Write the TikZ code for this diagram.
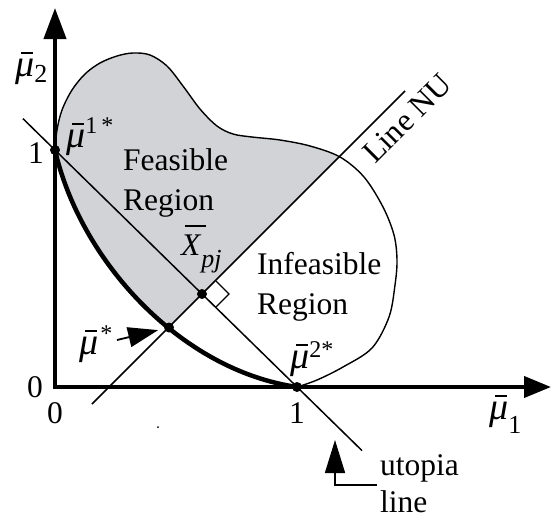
\documentclass[tikz,border=0pt]{standalone}
\usepackage{fontspec}
\setmainfont{Liberation Serif}
\usetikzlibrary{arrows.meta,calc}
\definecolor{feasgray}{RGB}{210,211,214}
\newcommand\mubar{\mbox{\fontsize{38}{38}\selectfont\rlap{\kern0.15em\rule[0.58em]{0.32em}{0.055em}}\textit{μ}}}
\newcommand\xbar{\mbox{\rlap{\kern0.12em\rule[0.88em]{0.68em}{0.06em}}\textit{X}}}
\newcommand\subsc[2]{\raisebox{-#1}{\fontsize{26}{26}\selectfont #2}}
\newcommand\supsc[2]{\raisebox{#1}{\fontsize{24}{24}\selectfont #2}}
\begin{document}
\begin{tikzpicture}[x=1pt,y=-1pt,
  dot/.style={circle,fill=black,inner sep=0pt,minimum size=10pt},
  lbl/.style={inner sep=0pt,font=\fontsize{31.5}{40}\selectfont},
  thinl/.style={line width=1.5pt},
  bound/.style={line width=1.4pt},
  pareto/.style={line width=4.5pt,line cap=round},
  axis/.style={line width=4pt,line join=miter,
    {Triangle[length=31pt,width=22pt]}-{Triangle[length=27pt,width=21pt]}},
  ptra/.style={line width=1.8pt,-{Triangle[length=30pt,width=20pt]}},
  ptrb/.style={line width=1.6pt,-{Triangle[length=33pt,width=20pt]}}]
\useasboundingbox (0,0) rectangle (551,517);
% key points
\coordinate (O) at (55,387);
\coordinate (ytip) at (55,8);
\coordinate (xtip) at (551,387);
\coordinate (pm1) at (55,150);
\coordinate (pm2) at (297,387);
\coordinate (pxpj) at (202,294);
\coordinate (pms) at (169,327.5);
\coordinate (ut1) at (23,118.7);
\coordinate (ut2) at (362,450.6);
\coordinate (nu1) at (92,404);
\coordinate (nu2) at (405,91);
% shaded part of the feasible region
\begin{scope}
\clip (0,0) -- (496,0) -- (0,496) -- cycle;
\fill[feasgray] plot[smooth,tension=0.55] coordinates {(55,150) (57,130) (62,110) (72,90) (85,74) (100,63) (117,56) (133,53) (150,55) (167,66) (183,86) (200,109) (217,126) (233,134) (252,137) (280,140) (310,146) (340,157) (364,177) (383,207) (394,235) (397,260) (395,285) (389,317) (372,348) (343,367) (317,380) (297,387)}
  .. controls (180,370) and (80,260) .. (55,150) -- cycle;
\end{scope}
% outer boundary
\draw[bound] plot[smooth,tension=0.55] coordinates {(55,150) (57,130) (62,110) (72,90) (85,74) (100,63) (117,56) (133,53) (150,55) (167,66) (183,86) (200,109) (217,126) (233,134) (252,137) (280,140) (310,146) (340,157) (364,177) (383,207) (394,235) (397,260) (395,285) (389,317) (372,348) (343,367) (317,380) (297,387)};
% utopia line and line NU
\draw[thinl] (ut1) -- (ut2);
\draw[thinl] (nu1) -- (nu2);
% right angle mark
\draw[line width=1.3pt] ($(pxpj)+(14,-13)$) -- ++(13,13) -- ++(-13,13);
% Pareto front
\draw[pareto] (pm1) .. controls (80,260) and (180,370) .. (pm2);
% axes
\draw[axis] (ytip) -- (O) -- (xtip);
% dots
\node[dot] (m1) at (pm1) {};
\node[dot] (m2) at (pm2) {};
\node[dot] (xpj) at (pxpj) {};
\node[dot] (ms) at (pms) {};
\node[circle,fill=black,inner sep=0pt,minimum size=2pt] (speck) at (158,427) {};
% pointers
\coordinate (msa) at (117,340);
\draw[ptra,shorten >=6pt] (msa) -- (ms);
\coordinate (upa) at (377,485);
\coordinate (upt) at (335,440);
\draw[ptrb] (upa) -| (upt);
% labels
\node[lbl,anchor=base west] (lmu2) at (15,76) {\mubar\subsc{6pt}{2}};
\node[lbl,anchor=base west] (lmu1) at (489,419) {\mubar\subsc{14pt}{1}};
\node[lbl,anchor=base] (ly1) at (36,163) {1};
\node[lbl,anchor=base] (ly0) at (35,397) {0};
\node[lbl,anchor=base] (lx0) at (55,423) {0};
\node[lbl,anchor=base] (lx1) at (297,423) {1};
\node[lbl,anchor=base west] (lm1s) at (66,147) {\mubar\supsc{14pt}{1\,*}};
\node[lbl,anchor=base west] (lm2s) at (290,368) {\mubar\supsc{11pt}{2*}};
\node[lbl,anchor=base west] (lms) at (79,354) {\mubar\kern2pt\supsc{13pt}{*}};
\node[lbl,anchor=base west] (lxpj) at (181,255) {\xbar\subsc{12pt}{\textit{pj}}};
\node[lbl,anchor=north west,align=left] (feas) at (123,148.5) {Feasible\\Region};
\node[lbl,anchor=north west,align=left] (infeas) at (257,252) {Infeasible\\Region};
\node[lbl,anchor=base west,rotate=45] (lnu) at (375,165) {Line NU};
\node[inner sep=0pt,anchor=north west,align=left,font=\fontsize{31.5}{37}\selectfont] (lut) at (380,454) {utopia\\line};
\end{tikzpicture}
\end{document}
